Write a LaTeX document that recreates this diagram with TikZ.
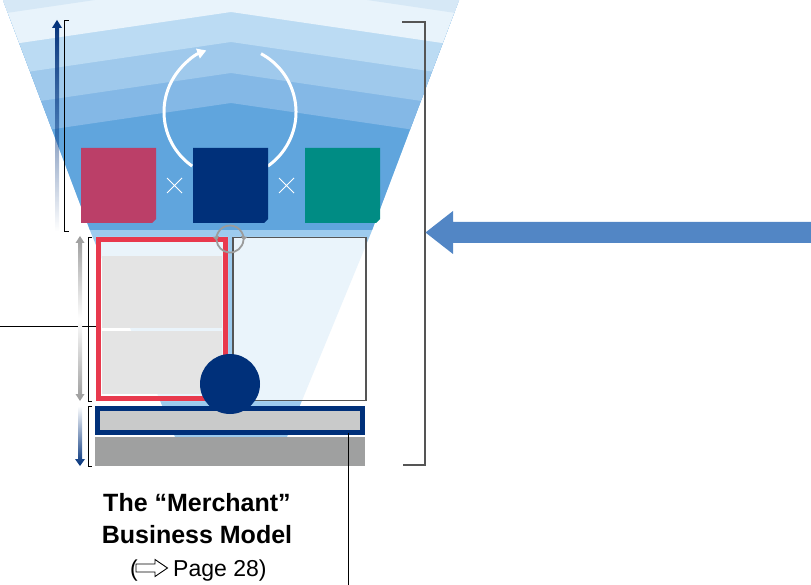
\documentclass[tikz,border=0pt]{standalone}
\usepackage{fontspec}
\setmainfont{Liberation Sans}
\usetikzlibrary{arrows.meta,fadings}
\definecolor{cNavy}{HTML}{00307A}
\definecolor{cPink}{HTML}{BB3F68}
\definecolor{cTeal}{HTML}{008C84}
\definecolor{cRed}{HTML}{E8394D}
\definecolor{cBar}{HTML}{C9CACA}
\definecolor{cBase}{HTML}{9FA0A0}
\definecolor{cPanel}{HTML}{E4E4E4}
\definecolor{cBorder}{HTML}{555555}
\definecolor{cGrayA}{HTML}{9B9B9B}
\definecolor{cArrow}{HTML}{5286C5}
\definecolor{cFanLow}{HTML}{9DCBEE}
\definecolor{cFanLight}{HTML}{EAF4FB}
\definecolor{bandA}{HTML}{D6E8F6}
\definecolor{bandB}{HTML}{E8F3FB}
\definecolor{bandC}{HTML}{BBDBF3}
\definecolor{bandD}{HTML}{9FC9EC}
\definecolor{bandE}{HTML}{84B8E6}
\definecolor{bandF}{HTML}{60A5DD}
\tikzfading[name=fadeup, top color=transparent!0, bottom color=transparent!100]
\tikzfading[name=fadedown, top color=transparent!100, bottom color=transparent!0]
\newcommand\chevband[2]{\fill[#2] (-10,-10) -- (-10,{#1+35.4}) -- (231,#1) -- (472,{#1+35.4}) -- (472,-10) -- cycle;}
\newcommand\chamsq[2]{\fill[#2] (#1,148) -- ({#1+75},148) -- ({#1+75},219) -- ({#1+71},223) -- (#1,223) -- cycle;}
\tikzset{
  brk/.style={draw=black, line width=1},
  rbrk/.style={draw=cBorder, line width=1.4},
  lead/.style={draw=black, line width=0.9},
  ttl/.style={font=\fontsize{25}{28}\selectfont\bfseries, inner sep=0},
  pgtxt/.style={font=\fontsize{23}{28}\selectfont, inner sep=0},
  cross/.style={draw=white, line width=1},
}
\begin{document}
\begin{tikzpicture}[x=1pt,y=-1pt]
\useasboundingbox (0,0) rectangle (811,585);
% fan with chevron bands
\begin{scope}
  \clip (3,0) -- (459,0) -- (371,233) -- (287,437) -- (175,437) -- (91,233) -- cycle;
  \fill[cFanLow] (0,0) rectangle (470,440);
  \fill[bandF] (0,-5) rectangle (470,230);
  \chevband{103}{bandE}
  \chevband{73}{bandD}
  \chevband{42}{bandC}
  \chevband{12}{bandB}
  \chevband{-20}{bandA}
\end{scope}
% white cycle arrows
\draw[white, line width=3, -{Triangle[length=9pt,width=10pt]}] (230,112) ++(125:66) arc[start angle=125, end angle=249, radius=66];
\draw[white, line width=3] (230,112) ++(-62:66) arc[start angle=-62, end angle=55, radius=66];
% squares
\chamsq{81}{cPink}
\chamsq{193}{cNavy}
\chamsq{305}{cTeal}
\draw[cross] (167,178) -- (182,193) (167,193) -- (182,178);
\draw[cross] (279,178) -- (294,193) (279,193) -- (294,178);
% box interiors
\fill[white] (96,237) rectangle (228,401);
\fill[white] (233,237) rectangle (366,401);
\begin{scope}
  \clip (96,237) rectangle (228,401) (233,237) rectangle (366,401);
  \fill[cFanLight] (3,0) -- (459,0) -- (371,233) -- (287,437) -- (175,437) -- (91,233) -- cycle;
\end{scope}
\fill[cPanel] (102,256) rectangle (222,328);
\fill[cPanel] (102,331) rectangle (222,394);
% leader lines
\coordinate (lfree) at (0,326);
\coordinate (bfree) at (348.5,585);
\draw[lead] (lfree) -- (96,326);
% boxes
\node[draw=cRed, line width=5, minimum width=127, minimum height=159, inner sep=0, outer sep=0] (redbox) at (162,319) {};
\node[draw=cBorder, line width=1.2, minimum width=133, minimum height=163, inner sep=0, outer sep=0] (rbox) at (299.5,319) {};
\node[draw=cNavy, fill=cBar, line width=5, minimum width=265, minimum height=24, inner sep=0, outer sep=0] (bar) at (230,420.5) {};
\node[fill=cBase, minimum width=270, minimum height=29, inner sep=0, outer sep=0] (base) at (230,451.5) {};
\draw[lead] (bar.south -| bfree) -- (bfree);
\node[circle, fill=cNavy, minimum size=60, inner sep=0] (hub) at (230,384) {};
% small gray cycle
\draw[cGrayA, line width=1.8, -{Triangle[length=4.5pt,width=6pt]}] (230,239) ++(-90:13.5) arc[start angle=-90, end angle=-188, radius=13.5];
\draw[cGrayA, line width=1.8, -{Triangle[length=4.5pt,width=6pt]}] (230,239) ++(-90:13.5) arc[start angle=-90, end angle=8, radius=13.5];
\draw[cGrayA, line width=1.8] (230,239) ++(5:13.5) arc[start angle=5, end angle=175, radius=13.5];
% left arrows
\fill[cNavy, path fading=fadeup] (55,231) -- (55,28) -- (52,28) -- (57,20) -- (62,28) -- (59,28) -- (59,231) -- cycle;
\shade[top color=cGrayA, bottom color=cGrayA, middle color=white] (78,243) -- (75.5,243) -- (80,236) -- (84.5,243) -- (82,243) -- (82,394) -- (84.5,394) -- (80,401) -- (75.5,394) -- (78,394) -- cycle;
\shade[top color=white, bottom color=cNavy] (78,406) -- (82,406) -- (82,459) -- (85,459) -- (80,466) -- (75,459) -- (78,459) -- cycle;
% brackets
\draw[brk] (69,21) -- (64.5,21) -- (64.5,232) -- (69,232);
\draw[brk] (92,238) -- (88.5,238) -- (88.5,401) -- (92,401);
\draw[brk] (92,406) -- (88.5,406) -- (88.5,466) -- (92,466);
\draw[rbrk] (402,22) -- (425,22) -- (425,465) -- (403,465);
% big arrow
\fill[cArrow] (811,222) -- (453,222) -- (453,211) -- (425.5,232.5) -- (453,254) -- (453,243) -- (811,243) -- cycle;
% caption
\node[ttl, anchor=base] (t1) at (197,511) {The “Merchant”};
\node[ttl, anchor=base] (t2) at (197,543) {Business Model};
\node[pgtxt, anchor=base west] (lp) at (130,576) {(};
\draw[line width=0.9] (136,564) -- (155,564) -- (155,559.5) -- (167.5,568) -- (155,576.5) -- (155,572) -- (136,572) -- cycle;
\node[pgtxt, anchor=base west] (pgt) at (173,576) {Page 28)};
\end{tikzpicture}
\end{document}
